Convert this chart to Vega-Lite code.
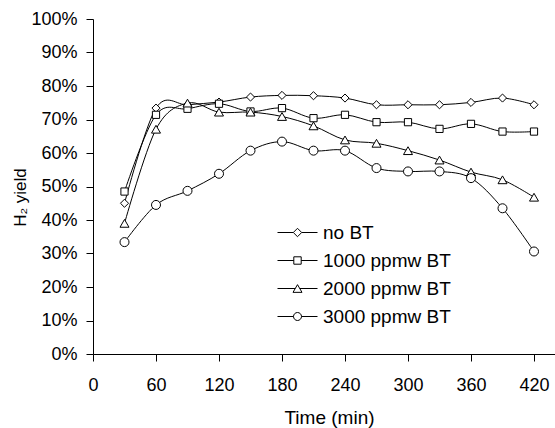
{
  "$schema": "https://vega.github.io/schema/vega-lite/v6.json",
  "width": 462,
  "height": 335,
  "autosize": {"type": "none"},
  "padding": {"left": 93, "top": 19, "right": 0, "bottom": 74},
  "background": "white",
  "config": {
    "view": {"stroke": null},
    "font": "Liberation Sans",
    "axis": {"domainColor": "black", "tickColor": "black", "labelColor": "black", "titleColor": "black", "grid": false, "tickSize": 7, "domainWidth": 1, "tickWidth": 1, "labelFont": "Liberation Sans", "titleFont": "Liberation Sans", "labelFontSize": 18, "titleFontWeight": "normal"}
  },
  "data": {"values": [
    {"t": 30, "y": 0.450, "s": "no BT"},
    {"t": 60, "y": 0.734, "s": "no BT"},
    {"t": 90, "y": 0.744, "s": "no BT"},
    {"t": 120, "y": 0.752, "s": "no BT"},
    {"t": 150, "y": 0.767, "s": "no BT"},
    {"t": 180, "y": 0.772, "s": "no BT"},
    {"t": 210, "y": 0.771, "s": "no BT"},
    {"t": 240, "y": 0.764, "s": "no BT"},
    {"t": 270, "y": 0.744, "s": "no BT"},
    {"t": 300, "y": 0.744, "s": "no BT"},
    {"t": 330, "y": 0.744, "s": "no BT"},
    {"t": 360, "y": 0.751, "s": "no BT"},
    {"t": 390, "y": 0.764, "s": "no BT"},
    {"t": 420, "y": 0.744, "s": "no BT"},
    {"t": 30, "y": 0.485, "s": "1000 ppmw BT"},
    {"t": 60, "y": 0.714, "s": "1000 ppmw BT"},
    {"t": 90, "y": 0.732, "s": "1000 ppmw BT"},
    {"t": 120, "y": 0.747, "s": "1000 ppmw BT"},
    {"t": 150, "y": 0.724, "s": "1000 ppmw BT"},
    {"t": 180, "y": 0.734, "s": "1000 ppmw BT"},
    {"t": 210, "y": 0.704, "s": "1000 ppmw BT"},
    {"t": 240, "y": 0.714, "s": "1000 ppmw BT"},
    {"t": 270, "y": 0.692, "s": "1000 ppmw BT"},
    {"t": 300, "y": 0.692, "s": "1000 ppmw BT"},
    {"t": 330, "y": 0.672, "s": "1000 ppmw BT"},
    {"t": 360, "y": 0.687, "s": "1000 ppmw BT"},
    {"t": 390, "y": 0.664, "s": "1000 ppmw BT"},
    {"t": 420, "y": 0.664, "s": "1000 ppmw BT"},
    {"t": 30, "y": 0.390, "s": "2000 ppmw BT"},
    {"t": 60, "y": 0.671, "s": "2000 ppmw BT"},
    {"t": 90, "y": 0.749, "s": "2000 ppmw BT"},
    {"t": 120, "y": 0.722, "s": "2000 ppmw BT"},
    {"t": 150, "y": 0.722, "s": "2000 ppmw BT"},
    {"t": 180, "y": 0.709, "s": "2000 ppmw BT"},
    {"t": 210, "y": 0.681, "s": "2000 ppmw BT"},
    {"t": 240, "y": 0.639, "s": "2000 ppmw BT"},
    {"t": 270, "y": 0.629, "s": "2000 ppmw BT"},
    {"t": 300, "y": 0.607, "s": "2000 ppmw BT"},
    {"t": 330, "y": 0.579, "s": "2000 ppmw BT"},
    {"t": 360, "y": 0.543, "s": "2000 ppmw BT"},
    {"t": 390, "y": 0.520, "s": "2000 ppmw BT"},
    {"t": 420, "y": 0.468, "s": "2000 ppmw BT"},
    {"t": 30, "y": 0.334, "s": "3000 ppmw BT"},
    {"t": 60, "y": 0.445, "s": "3000 ppmw BT"},
    {"t": 90, "y": 0.487, "s": "3000 ppmw BT"},
    {"t": 120, "y": 0.538, "s": "3000 ppmw BT"},
    {"t": 150, "y": 0.607, "s": "3000 ppmw BT"},
    {"t": 180, "y": 0.634, "s": "3000 ppmw BT"},
    {"t": 210, "y": 0.607, "s": "3000 ppmw BT"},
    {"t": 240, "y": 0.607, "s": "3000 ppmw BT"},
    {"t": 270, "y": 0.555, "s": "3000 ppmw BT"},
    {"t": 300, "y": 0.545, "s": "3000 ppmw BT"},
    {"t": 330, "y": 0.545, "s": "3000 ppmw BT"},
    {"t": 360, "y": 0.525, "s": "3000 ppmw BT"},
    {"t": 390, "y": 0.435, "s": "3000 ppmw BT"},
    {"t": 420, "y": 0.306, "s": "3000 ppmw BT"}
  ]},
  "encoding": {
    "x": {"field": "t", "type": "quantitative", "scale": {"domain": [0, 440], "nice": false, "zero": false},
      "axis": {"values": [0, 60, 120, 180, 240, 300, 360, 420], "title": "Time (min)", "titleFontSize": 19, "labelPadding": 15, "titleY": 69, "titleX": 236, "titleBaseline": "alphabetic", "titleAlign": "center", "labelFlush": false}},
    "y": {"field": "y", "type": "quantitative", "scale": {"domain": [0, 1], "nice": false},
      "axis": {"values": [0, 0.1, 0.2, 0.3, 0.4, 0.5, 0.6, 0.7, 0.8, 0.9, 1], "format": ".0%", "title": "H₂ yield", "titleFontSize": 17, "labelPadding": 9, "titleX": -68, "titleY": 178, "titleBaseline": "alphabetic", "titleAlign": "center", "titleAngle": -90, "labelFlush": false}}
  },
  "layer": [
    {
      "mark": {"type": "line", "interpolate": "cardinal", "color": "black", "strokeWidth": 1},
      "encoding": {"detail": {"field": "s", "type": "nominal"}}
    },
    {
      "mark": {"type": "point", "filled": true, "fill": "white", "stroke": "black", "strokeWidth": 1, "size": 81, "opacity": 1},
      "encoding": {
        "shape": {"field": "s", "type": "nominal",
          "scale": {"domain": ["no BT", "1000 ppmw BT", "2000 ppmw BT", "3000 ppmw BT"],
            "range": ["M-0.9,0L0,-0.9L0.9,0L0,0.9Z", "M-0.8,-0.8H0.8V0.8H-0.8Z", "triangle-up", "circle"]},
          "legend": null}
      }
    },
    {
      "mark": {"type": "point", "filled": false, "color": "black", "strokeWidth": 1, "size": 400, "opacity": 0},
      "encoding": {
        "shape": {"field": "s", "type": "nominal",
          "scale": {"domain": ["no BT", "1000 ppmw BT", "2000 ppmw BT", "3000 ppmw BT"],
            "range": ["M-1,0H0.58M1.42,0H3M0.58,0L1,-0.42L1.42,0L1,0.42Z", "M-1,0H0.63M1.37,0H3M0.63,-0.37H1.37V0.37H0.63Z", "M-1,0H0.775M1.225,0H3M1,-0.385L1.45,0.385H0.55Z", "M-1,0H0.6M1.4,0H3M0.6,0A0.4,0.4,0,1,0,1.4,0A0.4,0.4,0,1,0,0.6,0Z"]},
          "legend": {"title": null, "orient": "none", "legendX": 184, "legendY": 203, "symbolSize": 400, "labelFontSize": 19, "labelFont": "Liberation Sans", "labelColor": "black", "labelOffset": 25, "rowPadding": 7, "padding": 0, "symbolStrokeColor": "black", "symbolStrokeWidth": 1, "symbolOpacity": 1}}
      }
    }
  ],
  "resolve": {"scale": {"shape": "independent"}, "legend": {"shape": "independent"}}
}
